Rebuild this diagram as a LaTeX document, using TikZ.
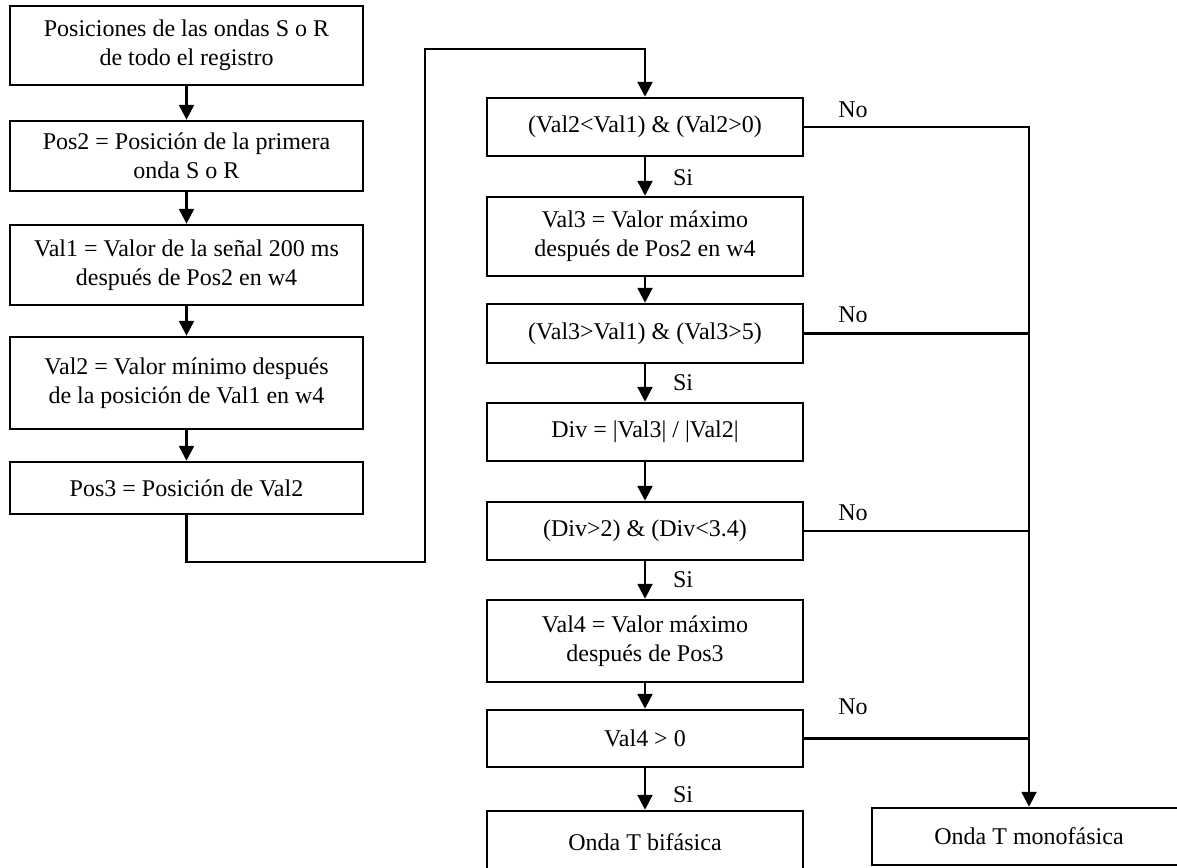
\documentclass[tikz,border=0pt]{standalone}
\usepackage{fontspec}
\setmainfont{Liberation Serif}
\usetikzlibrary{arrows.meta}
\begin{document}
\begin{tikzpicture}[x=1pt,y=-1pt,
  box/.style={draw, line width=2.5pt, align=center, inner sep=0pt, font=\fontsize{24}{28.8}\selectfont},
  lbl/.style={font=\fontsize{24}{28.8}\selectfont, inner sep=0pt},
  ln/.style={line width=2.5pt},
  arr/.style={line width=2.5pt, -{Triangle[length=15pt,width=15pt]}}]
\useasboundingbox (0,0) rectangle (1177,867);
\clip (0,0) rectangle (1177,867);
% left column
\node[box, minimum width=353pt, minimum height=79pt] (b1) at (186.5,45.5) {Posiciones de las ondas S o R\\de todo el registro};
\node[box, minimum width=353pt, minimum height=70pt] (b2) at (186.5,156) {Pos2 = Posición de la primera\\onda S o R};
\node[box, minimum width=353pt, minimum height=80pt] (b3) at (186.5,265) {Val1 = Valor de la señal 200 ms\\después de Pos2 en w4};
\node[box, minimum width=353pt, minimum height=92pt] (b4) at (186.5,383) {Val2 = Valor mínimo después\\de la posición de Val1 en w4};
\node[box, minimum width=353pt, minimum height=52pt] (b5) at (186.5,488) {Pos3 = Posición de Val2};
% right column
\node[box, minimum width=316pt, minimum height=58pt] (b6) at (645,127) {(Val2<Val1) \& (Val2>0)};
\node[box, minimum width=316pt, minimum height=79pt] (b7) at (645,236.5) {Val3 = Valor máximo\\después de Pos2 en w4};
\node[box, minimum width=316pt, minimum height=59pt] (b8) at (645,333.5) {(Val3>Val1) \& (Val3>5)};
\node[box, minimum width=316pt, minimum height=58pt] (b9) at (645,432) {Div = |Val3| / |Val2|};
\node[box, minimum width=316pt, minimum height=58pt] (b10) at (645,531) {(Div>2) \& (Div<3.4)};
\node[box, minimum width=316pt, minimum height=82pt] (b11) at (645,641) {Val4 = Valor máximo\\después de Pos3};
\node[box, minimum width=316pt, minimum height=57pt] (b12) at (645,738.5) {Val4 > 0};
\node[box, minimum width=316pt, minimum height=62pt] (b13) at (645,842) {Onda T bifásica};
\node[box, minimum width=314pt, minimum height=57pt] (b14) at (1029,836.5) {Onda T monofásica};
% left arrows
\draw[arr] (b1) -- (b2);
\draw[arr] (b2) -- (b3);
\draw[arr] (b3) -- (b4);
\draw[arr] (b4) -- (b5);
% transfer connector
\coordinate (c1) at (186.5,562);
\coordinate (c2) at (425,562);
\coordinate (c3) at (425,49);
\coordinate (c4) at (645,49);
\draw[arr] (b5.south) -- (c1) -- (c2) -- (c3) -- (c4) -- (b6.north);
% right arrows
\draw[arr] (b6) -- (b7);
\draw[arr] (b7) -- (b8);
\draw[arr] (b8) -- (b9);
\draw[arr] (b9) -- (b10);
\draw[arr] (b10) -- (b11);
\draw[arr] (b11) -- (b12);
\draw[arr] (b12) -- (b13);
% Si labels
\node[lbl] (s1) at (683,178) {Si};
\node[lbl] (s2) at (683,383) {Si};
\node[lbl] (s3) at (683,580) {Si};
\node[lbl] (s4) at (683,795) {Si};
% No branches
\coordinate (j1) at (1029,127);
\coordinate (j2) at (1029,333.5);
\coordinate (j3) at (1029,531);
\coordinate (j4) at (1029,738.5);
\draw[arr] (b6.east) -- (j1) -- (b14.north);
\draw[ln] (b8.east) -- (j2);
\draw[ln] (b10.east) -- (j3);
\draw[ln] (b12.east) -- (j4);
\node[lbl] (n1) at (853,110) {No};
\node[lbl] (n2) at (853,315) {No};
\node[lbl] (n3) at (853,513) {No};
\node[lbl] (n4) at (853,707) {No};
\end{tikzpicture}
\end{document}
